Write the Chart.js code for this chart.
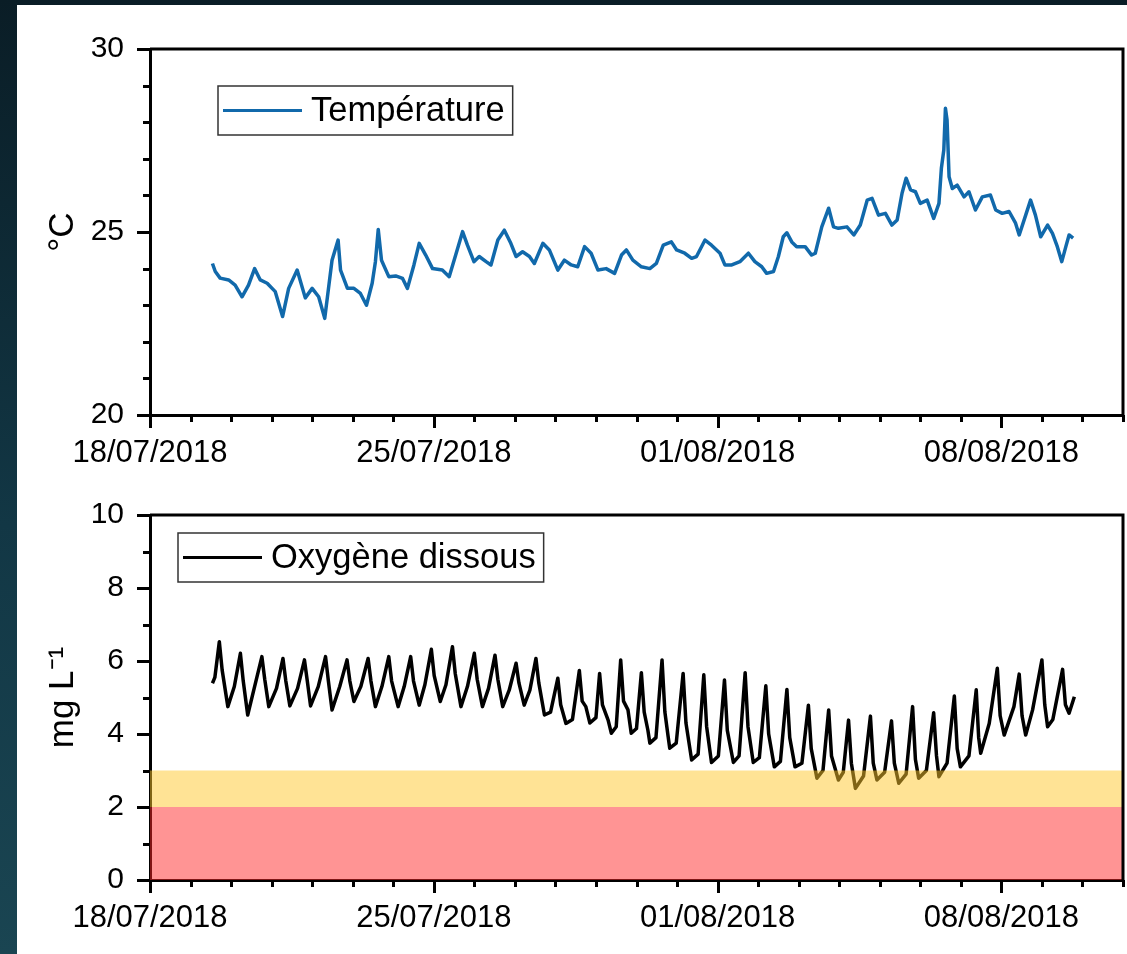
<!DOCTYPE html>
<html>
<head>
<meta charset="utf-8">
<script src="https://cdn.jsdelivr.net/npm/chart.js@4.4.1/dist/chart.umd.min.js"></script>
<style>
  html, body { margin: 0; padding: 0; }
  body {
    width: 1127px; height: 954px; overflow: hidden; position: relative;
    background: linear-gradient(to bottom, #0a1d26 0%, #123745 55%, #1a4552 100%);
  }
  #panel { position: absolute; left: 17px; top: 5px; width: 1110px; height: 949px; background: #fff; }
  #panel canvas { position: absolute; left: 0; }
</style>
</head>
<body>
<div id="panel">
  <canvas id="tempChart" width="1110" height="475" style="top:0"></canvas>
  <canvas id="oxyChart" width="1110" height="474" style="top:475px"></canvas>
</div>
<script>
// jours depuis le 18/07/2018 00:00
const majorDays = [0, 7, 14, 21];
const dateLabels = ["18/07/2018", "25/07/2018", "01/08/2018", "08/08/2018"];

// Température (°C)
const tempDays = [
  1.54, 1.61, 1.73, 1.94, 2.10, 2.27, 2.43, 2.58, 2.72, 2.89, 3.09, 3.27, 3.42, 3.63, 3.83, 4.00,
  4.16, 4.31, 4.49, 4.64, 4.70, 4.87, 5.03, 5.19, 5.34, 5.48, 5.56, 5.63, 5.71, 5.89, 6.06, 6.23,
  6.35, 6.51, 6.64, 6.80, 6.97, 7.21, 7.38, 7.54, 7.71, 7.83, 7.99, 8.12, 8.29, 8.41, 8.58, 8.74,
  8.90, 9.03, 9.19, 9.36, 9.48, 9.69, 9.85, 10.06, 10.22, 10.39, 10.55, 10.72, 10.88, 11.05, 11.25, 11.46,
  11.63, 11.75, 11.91, 12.12, 12.33, 12.49, 12.66, 12.86, 12.99, 13.19, 13.36, 13.48, 13.69, 13.85, 14.06, 14.18,
  14.35, 14.55, 14.76, 14.92, 15.09, 15.21, 15.38, 15.50, 15.62, 15.71, 15.83, 15.95, 16.16, 16.32, 16.41, 16.57,
  16.74, 16.86, 16.98, 17.19, 17.36, 17.52, 17.69, 17.81, 17.97, 18.14, 18.30, 18.43, 18.55, 18.65, 18.76, 18.88,
  19.00, 19.17, 19.33, 19.46, 19.52, 19.58, 19.62, 19.66, 19.71, 19.79, 19.91, 20.08, 20.20, 20.36, 20.53, 20.73,
  20.86, 21.02, 21.19, 21.35, 21.44, 21.60, 21.72, 21.84, 21.97, 22.14, 22.26, 22.38, 22.49, 22.59, 22.67, 22.77
];
const tempValues = [
  24.14, 23.92, 23.74, 23.69, 23.55, 23.23, 23.55, 24.00, 23.69, 23.60, 23.37, 22.69, 23.46, 23.96, 23.20, 23.46,
  23.23, 22.64, 24.23, 24.78, 23.96, 23.46, 23.46, 23.32, 23.00, 23.60, 24.19, 25.07, 24.23, 23.78, 23.80, 23.73,
  23.46, 24.10, 24.69, 24.37, 24.00, 23.96, 23.78, 24.37, 25.01, 24.64, 24.19, 24.33, 24.19, 24.10, 24.78, 25.05,
  24.69, 24.33, 24.46, 24.33, 24.14, 24.69, 24.51, 23.96, 24.23, 24.10, 24.05, 24.60, 24.42, 23.96, 24.00, 23.87,
  24.37, 24.51, 24.23, 24.05, 24.00, 24.14, 24.64, 24.73, 24.51, 24.42, 24.28, 24.33, 24.78, 24.64, 24.42, 24.10,
  24.10, 24.19, 24.42, 24.19, 24.05, 23.87, 23.92, 24.33, 24.87, 24.98, 24.73, 24.60, 24.60, 24.37, 24.42, 25.14,
  25.65, 25.14, 25.10, 25.14, 24.92, 25.19, 25.87, 25.92, 25.46, 25.51, 25.19, 25.33, 26.06, 26.47, 26.15, 26.10,
  25.78, 25.87, 25.37, 25.78, 26.74, 27.24, 28.38, 28.06, 26.51, 26.19, 26.28, 25.96, 26.10, 25.60, 25.96, 26.01,
  25.60, 25.51, 25.56, 25.24, 24.92, 25.46, 25.87, 25.46, 24.87, 25.19, 24.96, 24.60, 24.19, 24.60, 24.92, 24.83
];

// Oxygène dissous (mg/L)
const oxyDays = [
  1.54, 1.60, 1.71, 1.78, 1.92, 2.08, 2.23, 2.30, 2.41, 2.58, 2.76, 2.83, 2.93, 3.12, 3.28, 3.35,
  3.45, 3.64, 3.81, 3.88, 3.96, 4.15, 4.33, 4.40, 4.49, 4.68, 4.86, 4.93, 5.03, 5.20, 5.38, 5.45,
  5.56, 5.72, 5.89, 5.96, 6.12, 6.27, 6.43, 6.50, 6.64, 6.78, 6.94, 7.01, 7.16, 7.30, 7.46, 7.53,
  7.67, 7.83, 8.00, 8.07, 8.20, 8.35, 8.51, 8.58, 8.70, 8.86, 9.03, 9.10, 9.23, 9.37, 9.52, 9.59,
  9.73, 9.88, 10.06, 10.13, 10.26, 10.42, 10.59, 10.66, 10.75, 10.85, 11.00, 11.09, 11.16, 11.30, 11.38, 11.50,
  11.61, 11.68, 11.79, 11.87, 12.00, 12.12, 12.19, 12.28, 12.33, 12.48, 12.63, 12.70, 12.78, 12.82, 12.98, 13.15,
  13.22, 13.36, 13.52, 13.66, 13.73, 13.85, 14.02, 14.17, 14.24, 14.39, 14.53, 14.68, 14.75, 14.88, 15.03, 15.19,
  15.26, 15.40, 15.55, 15.71, 15.78, 15.91, 16.08, 16.24, 16.31, 16.45, 16.60, 16.74, 16.81, 16.98, 17.10, 17.23,
  17.30, 17.40, 17.60, 17.77, 17.84, 17.93, 18.12, 18.29, 18.36, 18.47, 18.65, 18.81, 18.88, 18.96, 19.15, 19.33,
  19.40, 19.46, 19.66, 19.84, 19.91, 19.99, 20.20, 20.38, 20.44, 20.49, 20.70, 20.90, 20.97, 21.07, 21.31, 21.44,
  21.51, 21.60, 21.77, 22.00, 22.07, 22.14, 22.27, 22.51, 22.58, 22.67, 22.80
];
const oxyValues = [
  5.39, 5.55, 6.53, 5.75, 4.75, 5.30, 6.21, 5.45, 4.52, 5.30, 6.12, 5.50, 4.75, 5.25, 6.07, 5.45,
  4.77, 5.25, 6.03, 5.45, 4.77, 5.30, 6.12, 5.45, 4.66, 5.30, 6.03, 5.45, 4.89, 5.30, 6.07, 5.45,
  4.75, 5.30, 6.12, 5.45, 4.75, 5.30, 6.12, 5.45, 4.79, 5.35, 6.32, 5.60, 4.89, 5.35, 6.39, 5.65,
  4.75, 5.30, 6.21, 5.50, 4.75, 5.25, 6.16, 5.50, 4.75, 5.20, 5.94, 5.40, 4.79, 5.20, 6.07, 5.40,
  4.52, 4.60, 5.53, 4.80, 4.29, 4.40, 5.74, 4.90, 4.75, 4.30, 4.45, 5.66, 4.80, 4.38, 4.02, 4.20,
  6.03, 4.90, 4.66, 4.02, 4.15, 5.68, 4.60, 4.11, 3.75, 3.90, 6.03, 4.60, 3.93, 3.61, 3.75, 5.66,
  4.30, 3.29, 3.45, 5.62, 4.20, 3.22, 3.40, 5.48, 4.10, 3.22, 3.40, 5.68, 4.20, 3.22, 3.35, 5.32,
  4.00, 3.10, 3.25, 5.22, 3.90, 3.10, 3.20, 4.79, 3.60, 2.79, 3.00, 4.66, 3.40, 2.74, 2.95, 4.38,
  3.20, 2.51, 2.85, 4.49, 3.20, 2.74, 2.95, 4.36, 3.20, 2.65, 2.90, 4.75, 3.30, 2.79, 3.00, 4.58,
  3.40, 2.83, 3.20, 5.04, 3.60, 3.10, 3.40, 5.21, 3.90, 3.47, 4.29, 5.80, 4.50, 3.97, 4.75, 5.64,
  4.50, 3.97, 4.66, 6.03, 4.80, 4.20, 4.40, 5.77, 4.80, 4.57, 5.02
];

// seuils d'oxygène (mg/L)
const hypoxiaLimit = 2;
const lowOxygenLimit = 3;

const FONT = "Arial, 'Liberation Sans', sans-serif";

const toPoints = (xs, ys) => xs.map((d, i) => ({ x: d, y: ys[i] }));

// ticks majeurs/mineurs, cadre haut/droite et légende encadrée
const decor = {
  id: "decor",
  afterDraw(chart, args, opts) {
    const { ctx, chartArea: a } = chart;
    const xs = chart.scales.x, ys = chart.scales.y;
    ctx.save();
    ctx.strokeStyle = "#000";
    ctx.lineWidth = 3;
    xs.ticks.forEach(t => {
      const px = Math.round(xs.getPixelForValue(t.value)) + 0.5;
      const len = majorDays.includes(t.value) ? 13 : 7;
      ctx.beginPath(); ctx.moveTo(px, a.bottom); ctx.lineTo(px, a.bottom + len); ctx.stroke();
    });
    ys.ticks.forEach(t => {
      const py = Math.round(ys.getPixelForValue(t.value)) + 0.5;
      const len = t.value % opts.yMajor === 0 ? 13 : 7;
      ctx.beginPath(); ctx.moveTo(a.left, py); ctx.lineTo(a.left - len, py); ctx.stroke();
    });
    ctx.beginPath();
    ctx.moveTo(a.left, a.top);
    ctx.lineTo(a.right, a.top);
    ctx.lineTo(a.right, a.bottom);
    ctx.stroke();

    // légende
    const ds = chart.data.datasets[0];
    ctx.font = "34.5px " + FONT;
    const tw = ctx.measureText(ds.label).width;
    const bx = a.left + opts.legendX, by = a.top + opts.legendY;
    const bw = 93 + tw + 8, bh = 49;
    ctx.fillStyle = "#fff";
    ctx.fillRect(bx, by, bw, bh);
    ctx.lineWidth = 1.5;
    ctx.strokeStyle = "#333";
    ctx.strokeRect(bx, by, bw, bh);
    ctx.strokeStyle = ds.borderColor;
    ctx.lineWidth = 3;
    ctx.beginPath(); ctx.moveTo(bx + 5, by + bh / 2); ctx.lineTo(bx + 84, by + bh / 2); ctx.stroke();
    ctx.fillStyle = "#000";
    ctx.textBaseline = "middle";
    ctx.fillText(ds.label, bx + 93, by + bh / 2 + 1);
    ctx.restore();
  }
};

const xAxis = (h) => ({
  type: "linear",
  min: 0,
  max: 24,
  afterFit: (s) => { s.height = h; s.paddingLeft = 0; s.paddingRight = 0; },
  border: { color: "#000", width: 3 },
  grid: { drawOnChartArea: false, drawTicks: false },
  ticks: {
    stepSize: 1,
    autoSkip: false,
    maxRotation: 0,
    minRotation: 0,
    padding: 20,
    color: "#000",
    font: { family: FONT, size: 31 },
    callback: (v) => {
      const i = majorDays.indexOf(v);
      return i >= 0 ? dateLabels[i] : "";
    }
  }
});

const yAxis = (min, max, major, title) => ({
  min: min,
  max: max,
  afterFit: (s) => { s.width = 133; s.paddingTop = 0; s.paddingBottom = 0; },
  border: { color: "#000", width: 3 },
  grid: { drawOnChartArea: false, drawTicks: false },
  title: { display: true, text: title, color: "#000", font: { family: FONT, size: 35 }, padding: { top: 25 } },
  ticks: {
    stepSize: 1,
    autoSkip: false,
    padding: 26,
    color: "#000",
    font: { family: FONT, size: 30 },
    callback: (v) => (v % major === 0 ? v : "")
  }
});

new Chart(document.getElementById("tempChart"), {
  type: "line",
  data: {
    datasets: [{
      label: "Température",
      data: toPoints(tempDays, tempValues),
      borderColor: "#1169ab",
      borderWidth: 3.5,
      pointRadius: 0,
      tension: 0,
      borderJoinStyle: "round"
    }]
  },
  options: {
    responsive: false,
    animation: false,
    layout: { padding: { top: 44, right: 4, left: 0, bottom: 0 } },
    scales: { x: xAxis(65), y: yAxis(20, 30, 5, "°C") },
    plugins: {
      legend: { display: false },
      tooltip: { enabled: false },
      decor: { yMajor: 5, legendX: 68, legendY: 37 }
    }
  },
  plugins: [decor]
});

new Chart(document.getElementById("oxyChart"), {
  type: "line",
  data: {
    datasets: [
      {
        label: "Oxygène dissous",
        data: toPoints(oxyDays, oxyValues),
        borderColor: "#000",
        borderWidth: 3.5,
        pointRadius: 0,
        tension: 0,
        borderJoinStyle: "round",
        order: 2
      },
      {
        label: "seuil bas",
        data: [{ x: 0, y: lowOxygenLimit }, { x: 24, y: lowOxygenLimit }],
        borderColor: "transparent",
        backgroundColor: "rgba(255, 199, 44, 0.5)",
        pointRadius: 0,
        fill: { value: hypoxiaLimit },
        order: 0
      },
      {
        label: "hypoxie",
        data: [{ x: 0, y: hypoxiaLimit }, { x: 24, y: hypoxiaLimit }],
        borderColor: "transparent",
        backgroundColor: "rgba(255, 41, 41, 0.5)",
        pointRadius: 0,
        fill: { value: 0 },
        order: 1
      }
    ]
  },
  options: {
    responsive: false,
    animation: false,
    layout: { padding: { top: 35, right: 4, left: 0, bottom: 0 } },
    scales: { x: xAxis(74), y: yAxis(0, 10, 2, "mg L⁻¹") },
    plugins: {
      legend: { display: false },
      tooltip: { enabled: false },
      decor: { yMajor: 2, legendX: 28, legendY: 18 }
    }
  },
  plugins: [decor]
});
</script>
</body>
</html>
